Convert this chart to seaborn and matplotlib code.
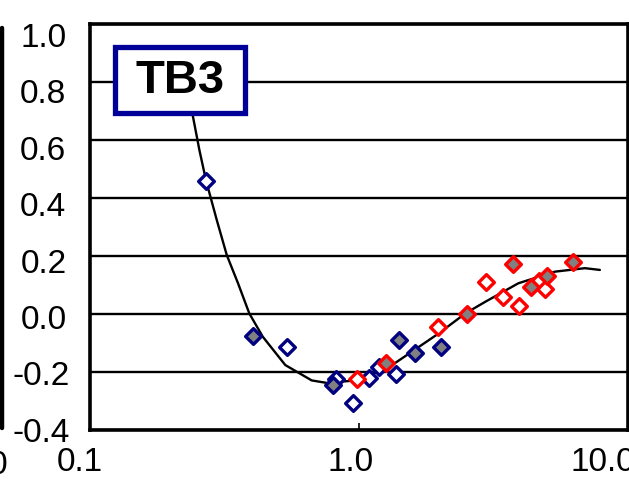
import numpy as np
import pandas as pd
import matplotlib
matplotlib.use("Agg")
import matplotlib.pyplot as plt
import matplotlib.transforms as mtransforms
from matplotlib.lines import Line2D
from matplotlib.patches import Rectangle
import seaborn as sns

# Measured data points (open = white fill, filled = grey fill)
blue_open_x = [0.270, 0.542, 0.822, 0.95, 1.089, 1.19, 1.368]
blue_open_y = [0.46, -0.115, -0.224, -0.308, -0.222, -0.182, -0.207]
blue_fill_x = [0.403, 0.80, 1.406, 1.61, 2.02]
blue_fill_y = [-0.076, -0.245, -0.090, -0.133, -0.113]
red_open_x = [0.986, 1.97, 2.96, 3.44, 3.92, 4.68, 4.91]
red_open_y = [-0.224, -0.044, 0.111, 0.060, 0.029, 0.114, 0.085]
red_fill_x = [1.256, 2.51, 3.75, 4.36, 4.98, 6.25]
red_fill_y = [-0.168, 0.0, 0.172, 0.092, 0.132, 0.180]

# Fitted trend curve
fit_x = [0.227, 0.2415, 0.255, 0.270, 0.296, 0.3225, 0.355, 0.391, 0.4385,
         0.532, 0.667, 0.774, 0.867, 1.0, 1.328, 1.978, 2.485, 2.946, 3.913,
         5.35, 6.91, 7.86]
fit_y = [0.79, 0.68, 0.566, 0.46, 0.324, 0.203, 0.106, 0.002, -0.078,
         -0.176, -0.229, -0.239, -0.233, -0.228, -0.176, -0.067, 0.002, 0.042,
         0.106, 0.146, 0.158, 0.152]

x_ticks = [0.1, 1.0, 10.0]
x_tick_labels = ["0.1", "1.0", "10.0"]
y_ticks = [1.0, 0.8, 0.6, 0.4, 0.2, 0.0, -0.2, -0.4]
y_tick_labels = ["1.0", "0.8", "0.6", "0.4", "0.2", "0.0", "-0.2", "-0.4"]
panel_label = "TB3"

NAVY = "#000080"
RED = "#ff0000"
GREY = "#808080"

sns.set_style("white")
plt.rcParams["font.family"] = ["Liberation Sans", "DejaVu Sans"]
plt.rcParams["text.color"] = "black"
plt.rcParams["xtick.color"] = "black"
plt.rcParams["ytick.color"] = "black"

W, H, DPI = 629, 486, 100
fig = plt.figure(figsize=(W / DPI, H / DPI), dpi=DPI)
ax = fig.add_axes([90 / W, 1 - 430 / H, (628 - 90) / W, (430 - 24) / H])

# gridlines
for yv in y_ticks:
    ax.axhline(yv, color="black", lw=1.7, zorder=1)

# trend curve
fit_df = pd.DataFrame({"x": fit_x, "y": fit_y})
sns.lineplot(data=fit_df, x="x", y="y", ax=ax, color="black", lw=1.7,
             sort=False, estimator=None, zorder=3)

def diamonds(xs, ys, face, edge):
    df = pd.DataFrame({"x": xs, "y": ys})
    sns.scatterplot(data=df, x="x", y="y", ax=ax, marker="D", s=64,
                    facecolor=face, edgecolor=edge, linewidth=2.4, zorder=4)

diamonds(blue_open_x, blue_open_y, "white", NAVY)
diamonds(blue_fill_x, blue_fill_y, GREY, NAVY)
diamonds(red_open_x, red_open_y, "white", RED)
diamonds(red_fill_x, red_fill_y, GREY, RED)

ax.set_xscale("log")
ax.set_xlim(0.1, 10.0)
ax.set_ylim(-0.4, 1.0)
ax.set_xticks(x_ticks)
ax.set_xticklabels(x_tick_labels)
ax.xaxis.set_minor_locator(matplotlib.ticker.NullLocator())
ax.set_yticks(y_ticks)
ax.set_yticklabels(y_tick_labels)
ax.set_xlabel("")
ax.set_ylabel("")

ax.tick_params(axis="x", direction="in", length=5, width=1.2, color="black",
               labelcolor="black", labelsize=24, pad=12, top=False, bottom=True)
ax.tick_params(axis="y", length=0, labelsize=24, labelcolor="black", pad=17)

def shift(lbl, dx, dy):
    lbl.set_transform(lbl.get_transform() +
                      mtransforms.ScaledTranslation(dx / DPI, dy / DPI, fig.dpi_scale_trans))

# label placement of the original layout: x labels sit left of their ticks,
# y labels are spaced slightly tighter than the gridlines
for lbl, dx in zip(ax.get_xticklabels(), [-10, -8, -25]):
    shift(lbl, dx, 0)
for k, (lbl, val) in enumerate(zip(ax.get_yticklabels(), y_ticks)):
    shift(lbl, 3 if val < 0 else 0, -(11 - 1.6 * k))

for sp in ax.spines.values():
    sp.set_visible(True)
    sp.set_color("black")
    sp.set_linewidth(2.6)
    sp.set_zorder(5)

# panel label box
bx0, bx1, by0, by1 = 114.5, 244.5, 47.5, 113.5
ax.add_patch(Rectangle(((bx0 - 90) / 538, (430 - by1) / 406),
                       (bx1 - bx0) / 538, (by1 - by0) / 406,
                       transform=ax.transAxes, facecolor="white",
                       edgecolor="#000099", linewidth=3.8, zorder=9,
                       clip_on=False))
ax.text((180 - 90) / 538, (430 - 93) / 406, panel_label, transform=ax.transAxes,
        ha="center", va="baseline", fontsize=34, fontweight="bold",
        color="black", zorder=10)

# edge of the neighbouring panel on the left
fig.add_artist(Line2D([2.2 / W, 2.2 / W], [1 - 428 / H, 1 - 28 / H],
                      transform=fig.transFigure, color="black", lw=3.2))
fig.text(8 / W, 1 - 465 / H, "10.0", ha="right", va="center", fontsize=24,
         color="black")

fig.savefig("out.png", dpi=DPI)
